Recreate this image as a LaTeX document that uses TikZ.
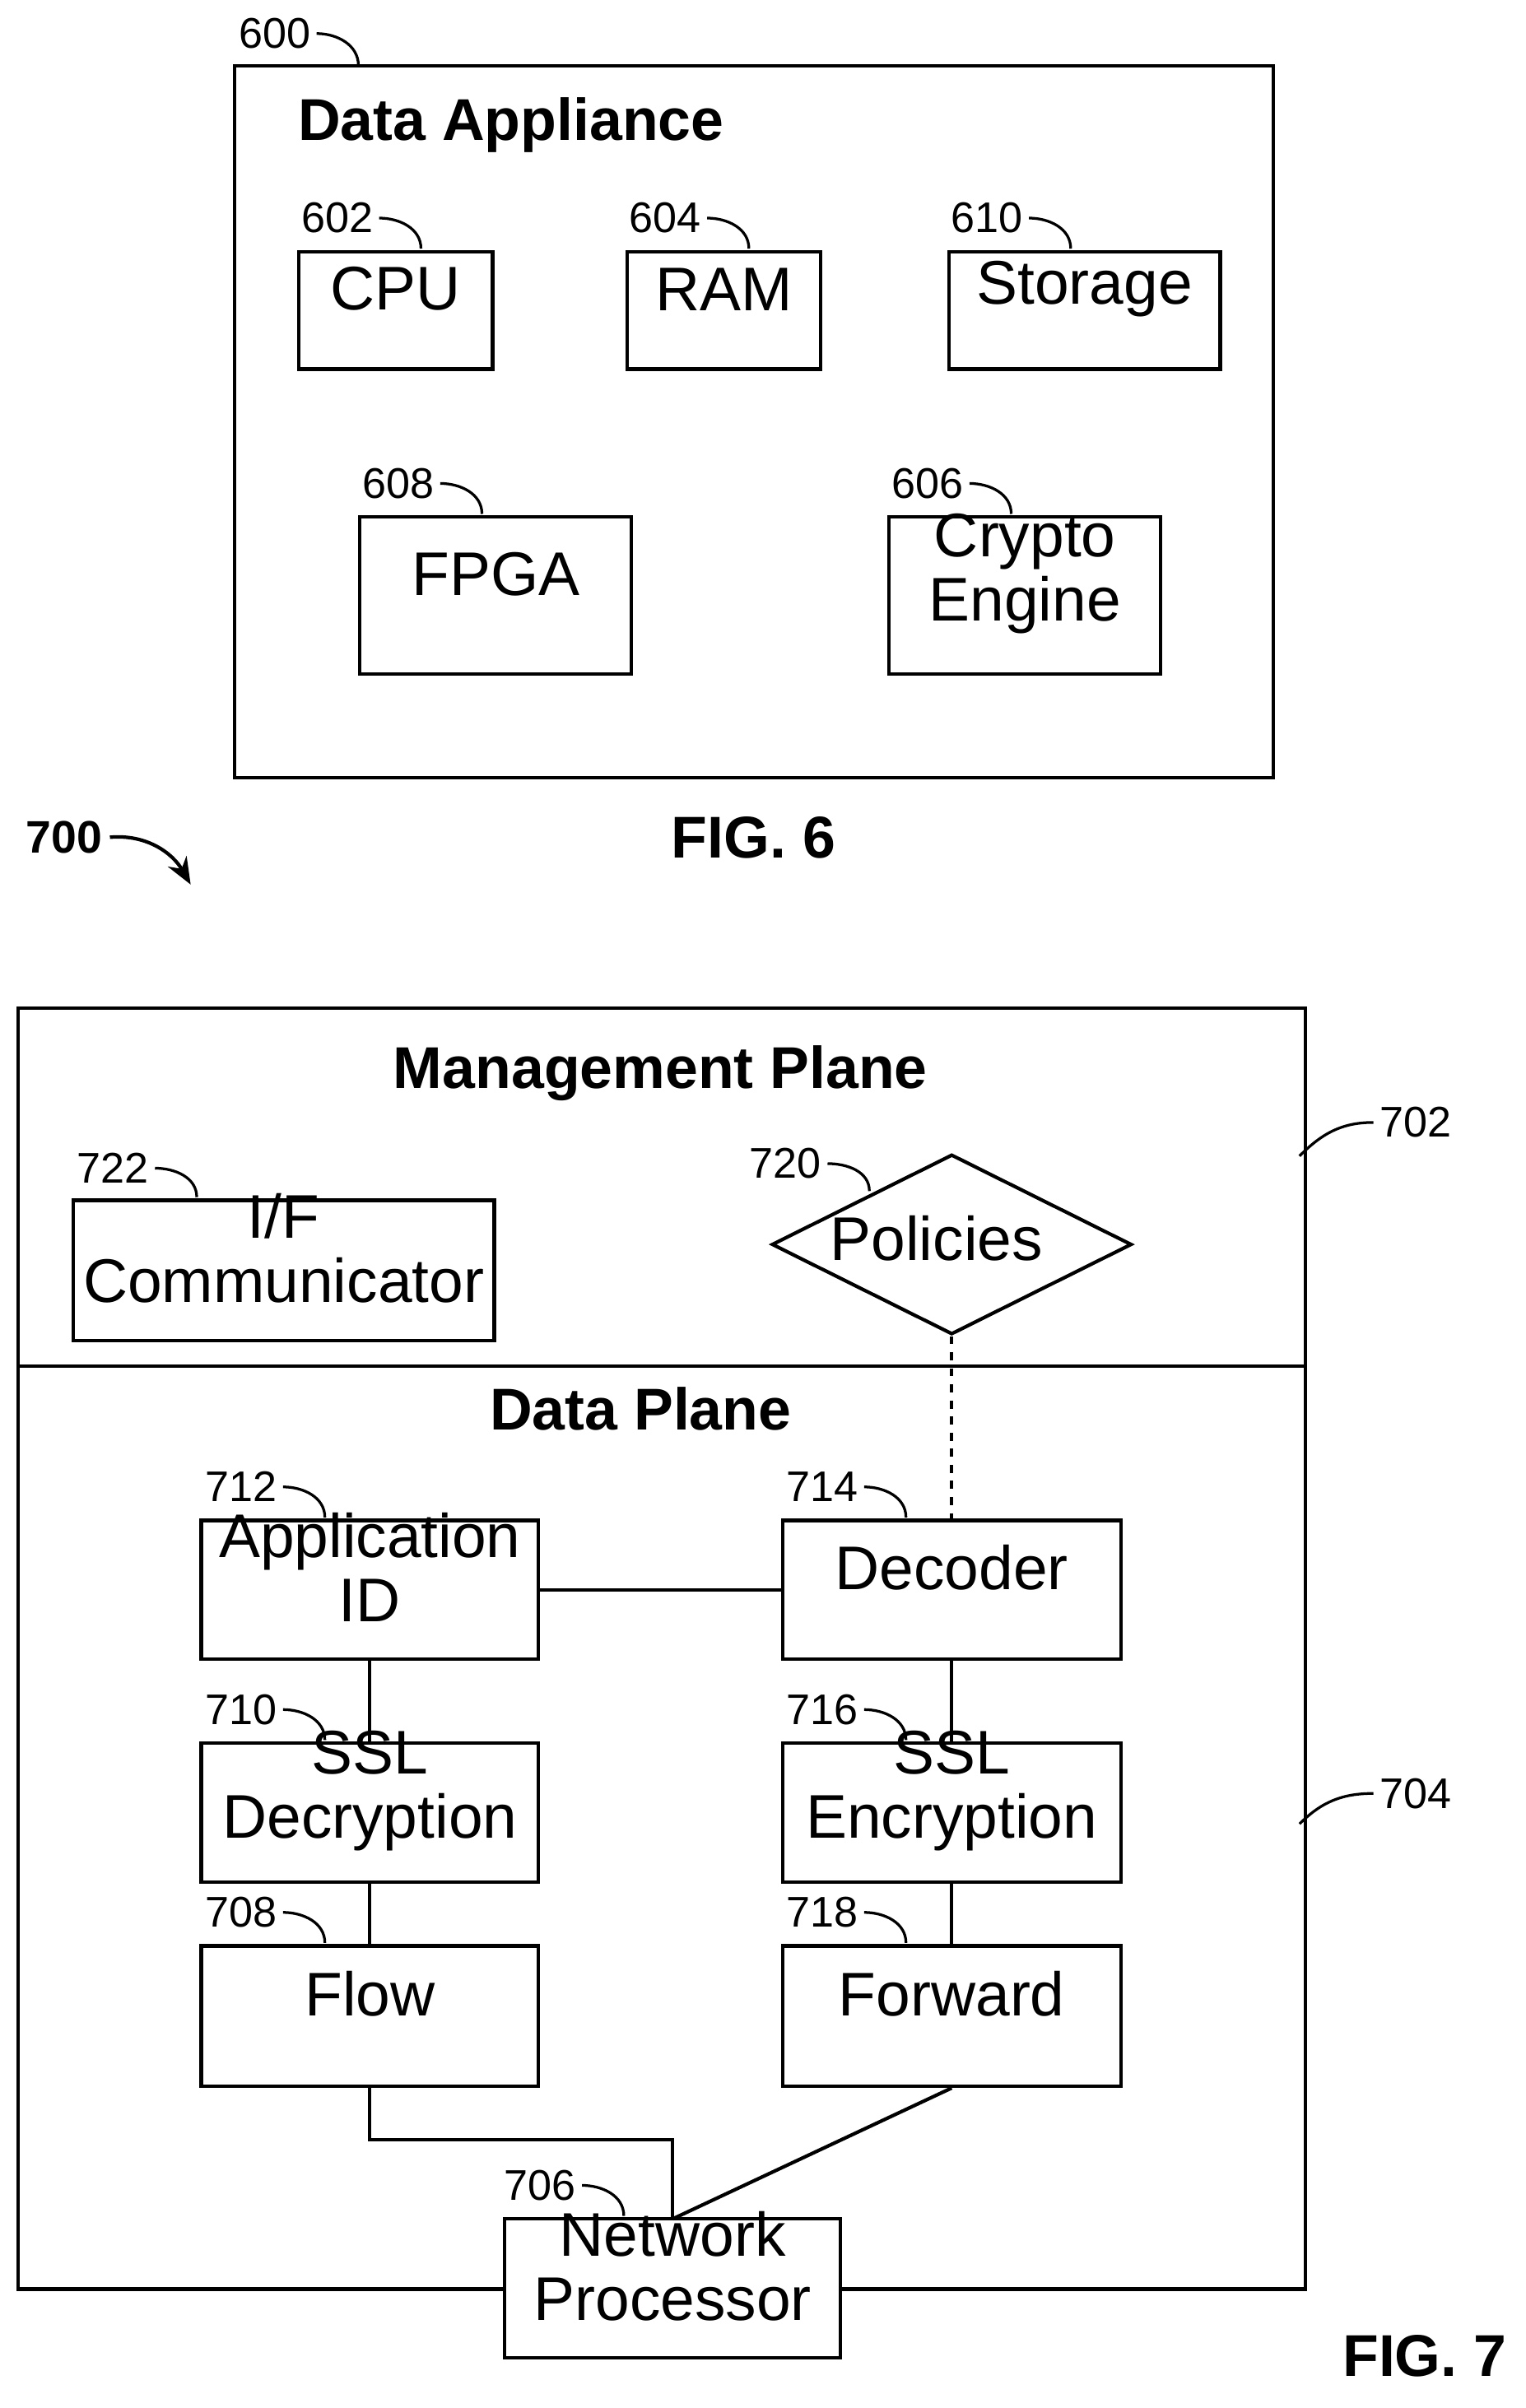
\documentclass[tikz,border=0pt]{standalone}
\usepackage{fontspec}
\setmainfont{Liberation Sans}
\usetikzlibrary{fit,shapes.geometric,arrows.meta}
\begin{document}
\begin{tikzpicture}[x=0.2mm,y=-0.2mm,line width=1.3pt,
  box/.style={draw,inner sep=0,align=center,font=\fontsize{23}{24}\selectfont},
  num/.style={font=\fontsize{16}{18}\selectfont,inner sep=0},
  ttl/.style={font=\fontsize{22}{24}\selectfont\bfseries,inner sep=0},
  hook/.style={line width=1pt}]
\useasboundingbox (0,0) rectangle (1000,1579);
% FIG 6
\node[draw,fit={(154,43)(835,510)},inner sep=0] (fig6) {};
\node[ttl] (t6) at (335,82) {Data Appliance};
\node[box,fit={(196,165)(323,242)}] (cpu) {CPU};
\node[box,fit={(411,165)(538,242)}] (ram) {RAM};
\node[box,fit={(622,165)(800,242)}] (sto) {Storage};
\node[box,fit={(236,339)(414,442)}] (fpga) {FPGA};
\node[box,fit={(583,339)(761,442)}] (cry) {Crypto\\Engine};
\newcommand{\reflab}[5]{\node[num] (#1) at (#2) {#3};
  \coordinate (#1e) at (#5);
  \draw[hook] (#1.east) ++(3,0) to[out=0,in=90] (#1e);}
\reflab{l600}{180,22}{600}{}{235,43}
\reflab{l602}{221,143}{602}{}{276,163}
\reflab{l604}{436,143}{604}{}{491,163}
\reflab{l610}{647,143}{610}{}{702,163}
\reflab{l608}{261,317}{608}{}{316,337}
\reflab{l606}{608,317}{606}{}{663,337}
\node[ttl] (f6) at (494,549) {FIG. 6};
% 700
\node[ttl,font=\fontsize{17}{18}\selectfont\bfseries] (l700) at (42,549) {700};
\coordinate (a700) at (125,580);
\draw[line width=1.3pt,-{Stealth[length=10pt,width=8pt]}] (l700.east) ++(4,0) to[out=5,in=120] (a700);
% FIG 7
\node[draw,fit={(12,661)(856,1501)},inner sep=0] (fig7) {};
\coordinate (dl) at (12,896); \coordinate (dr) at (856,896);
\draw (dl) -- (dr);
\node[ttl] (mp) at (433,704) {Management Plane};
\node[ttl] (dp) at (420,924) {Data Plane};
\node[box,fit={(48,787)(324,879)}] (ifc) {I/F\\Communicator};
\node[draw,diamond,minimum width=47.2mm,minimum height=23.6mm,inner sep=0] (pol) at (624,816) {};
\node[box,draw=none] (polt) at (614,812) {Policies};
\node[box,fit={(132,997)(353,1088)}] (app) {Application\\ID};
\node[box,fit={(513,997)(735,1088)}] (dec) {Decoder};
\node[box,fit={(132,1143)(353,1234)}] (sdec) {SSL\\Decryption};
\node[box,fit={(513,1143)(735,1234)}] (senc) {SSL\\Encryption};
\node[box,fit={(132,1276)(353,1368)}] (flow) {Flow};
\node[box,fit={(513,1276)(735,1368)}] (fwd) {Forward};
\node[box,fill=white,fit={(331,1455)(551,1546)}] (np) {Network\\Processor};
\reflab{l722}{74,766}{722}{}{129,785}
\reflab{l720}{515,763}{720}{}{570,781}
\reflab{l712}{158,975}{712}{}{213,995}
\reflab{l714}{539,975}{714}{}{594,995}
\reflab{l710}{158,1121}{710}{}{213,1141}
\reflab{l716}{539,1121}{716}{}{594,1141}
\reflab{l708}{158,1254}{708}{}{213,1274}
\reflab{l718}{539,1254}{718}{}{594,1274}
\reflab{l706}{354,1433}{706}{}{409,1453}
\node[num] (l702) at (928,736) {702};
\coordinate (e702) at (852,758);
\draw[hook] (l702.west) ++(-3,0) to[out=180,in=45] (e702);
\node[num] (l704) at (928,1176) {704};
\coordinate (e704) at (852,1196);
\draw[hook] (l704.west) ++(-3,0) to[out=180,in=45] (e704);
\node[ttl] (f7) at (934,1545) {FIG. 7};
% connectors
\draw (app.east) -- (dec.west);
\draw[dashed] (pol.south) -- (dec.north);
\draw (app.south) -- (sdec.north);
\draw (sdec.south) -- (flow.north);
\draw (dec.south) -- (senc.north);
\draw (senc.south) -- (fwd.north);
\coordinate (np1) at (441,1455);
\draw (flow.south) |- (441,1403) -- (np1);
\draw (fwd.south) -- (np1);
\end{tikzpicture}
\end{document}
